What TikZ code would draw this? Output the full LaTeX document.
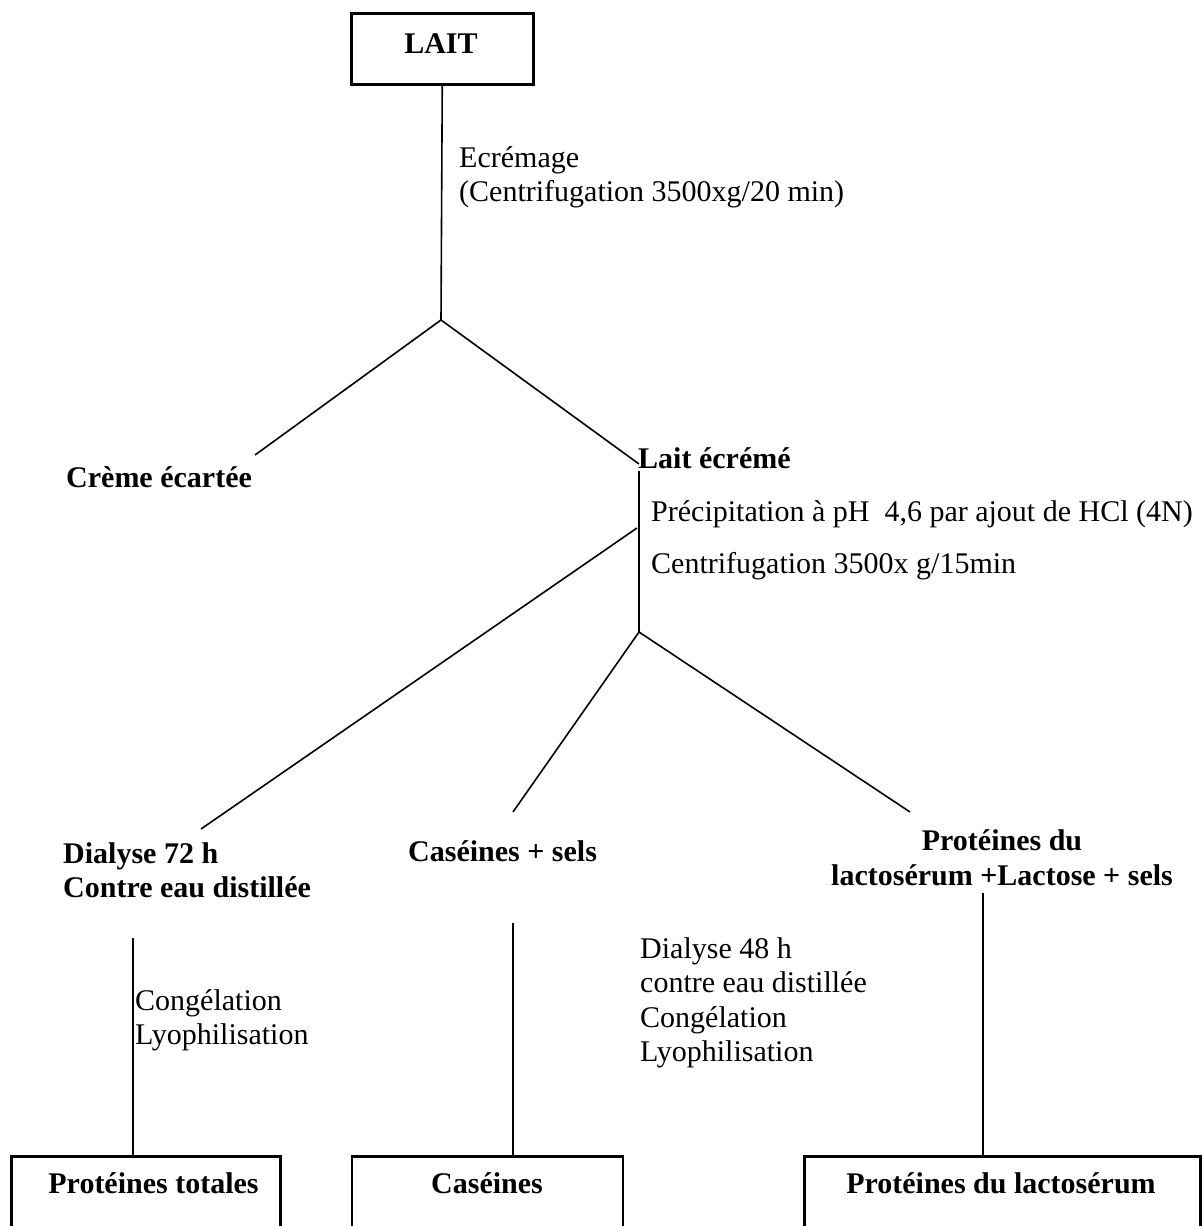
\documentclass[tikz,border=0pt]{standalone}
\usepackage{fontspec}
\setmainfont{Liberation Serif}
\begin{document}
\begin{tikzpicture}[x=1pt,y=-1pt,
  txt/.style={font=\fontsize{30}{34.5}\selectfont, inner sep=0pt, anchor=base west},
  btxt/.style={txt, font=\fontsize{30}{34.5}\selectfont\bfseries},
  ctxt/.style={btxt, anchor=base},
  box/.style={draw, line width=2.5pt, inner sep=0pt, anchor=north west},
  conn/.style={line width=1.6pt}]
\useasboundingbox (0,0) rectangle (1204,1226);
\clip (0,0) rectangle (1204,1226);

% top
\node[box, minimum width=182pt, minimum height=71pt] (lait) at (350,12) {};
\node[ctxt] (laitt) at (441,53) {LAIT};
\coordinate (j1) at (441,320);
\draw[conn] (lait.south) -- (j1);
\node[txt] (ecr1) at (459,167) {Ecrémage};
\node[txt] (ecr2) at (459,201) {(Centrifugation 3500xg/20 min)};

% first split
\coordinate (c1) at (255,455);
\coordinate (c2) at (639,464);
\draw[conn] (j1) -- (c1);
\draw[conn] (j1) -- (c2);
\node[btxt] (creme) at (66,487) {Crème écartée};
\node[btxt] (le) at (638,468) {Lait écrémé};

% second stage
\coordinate (v2top) at (639,471);
\coordinate (j2) at (639,632);
\draw[conn] (v2top) -- (j2);
\node[txt] (prec) at (651,521) {Précipitation à pH\ \ 4,6 par ajout de HCl (4N)};
\node[txt] (cent) at (651,573) {Centrifugation 3500x g/15min};

\coordinate (k) at (637,528);
\coordinate (d1) at (201,829);
\coordinate (d2) at (513,812);
\coordinate (d3) at (910,812);
\draw[conn] (k) -- (d1);
\draw[conn] (j2) -- (d2);
\draw[conn] (j2) -- (d3);

\node[btxt] (dia1) at (63,863) {Dialyse 72 h};
\node[btxt] (dia2) at (63,897.5) {Contre eau distillée};
\node[btxt] (cas) at (408,861) {Caséines + sels};
\node[ctxt] (prot1) at (1002,850) {Protéines du};
\node[ctxt] (prot2) at (1002,885) {lactosérum +Lactose + sels};

% bottom boxes
\node[box, minimum width=269pt, minimum height=120pt] (b1) at (10,1155) {};
\node[box, minimum width=271pt, minimum height=120pt] (b2) at (350.5,1155) {};
\node[box, minimum width=396pt, minimum height=120pt] (b3) at (803,1155) {};
\node[ctxt] (t1) at (153.5,1193) {Protéines totales};
\node[ctxt] (t2) at (487,1193) {Caséines};
\node[ctxt] (t3) at (1001,1193) {Protéines du lactosérum};

\coordinate (s1) at (133,938);
\coordinate (s2) at (513,923);
\coordinate (s3) at (983,893);
\draw[conn] (s1) -- (s1 |- b1.north);
\draw[conn] (s2) -- (s2 |- b2.north);
\draw[conn] (s3) -- (s3 |- b3.north);

\node[txt] (cl1) at (135,1010) {Congélation};
\node[txt] (cl2) at (135,1044.5) {Lyophilisation};
\node[txt] (m1) at (640,958) {Dialyse 48 h};
\node[txt] (m2) at (640,992.5) {contre eau distillée};
\node[txt] (m3) at (640,1027) {Congélation};
\node[txt] (m4) at (640,1061.5) {Lyophilisation};
\end{tikzpicture}
\end{document}
